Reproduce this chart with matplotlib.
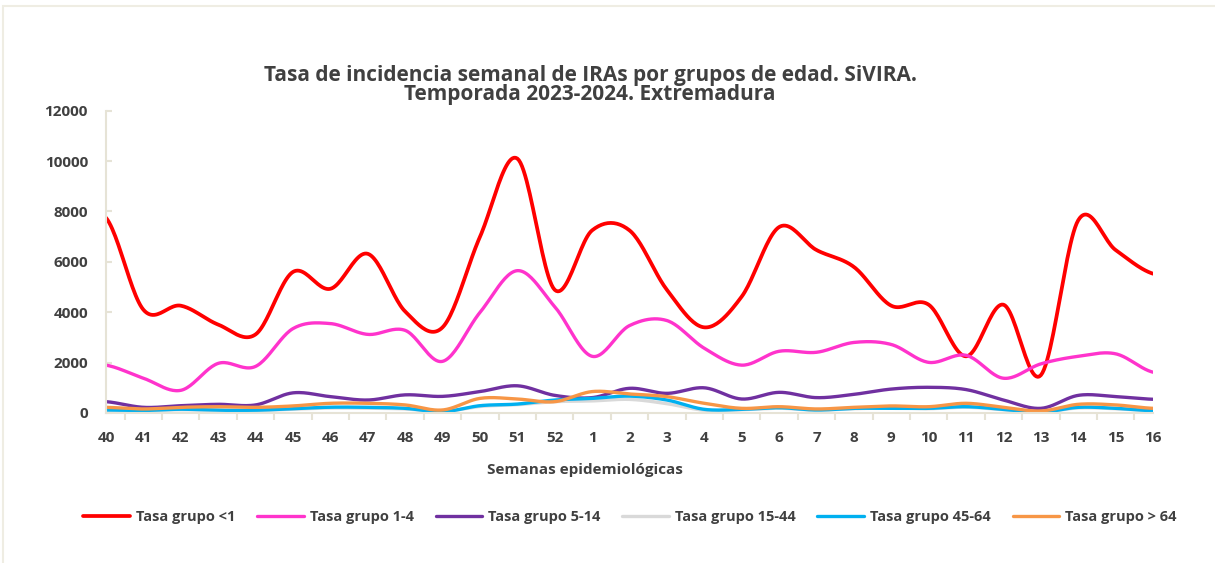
import numpy as np
import matplotlib
matplotlib.use("Agg")
import matplotlib.pyplot as plt
from matplotlib.patches import Rectangle

weeks = ['40', '41', '42', '43', '44', '45', '46', '47', '48', '49', '50', '51', '52',
         '1', '2', '3', '4', '5', '6', '7', '8', '9', '10', '11', '12', '13', '14', '15', '16']

tasa_lt1 = [7750, 4100, 4260, 3510, 3120, 5600, 4930, 6320, 4030, 3400, 6990, 10100, 4890,
            7250, 7250, 4890, 3400, 4620, 7380, 6470, 5800, 4260, 4300, 2250, 4300, 1500,
            7650, 6470, 5530]
tasa_1_4 = [1900, 1380, 900, 1970, 1850, 3350, 3550, 3120, 3280, 2050, 3990, 5650, 4220,
            2250, 3470, 3670, 2570, 1900, 2450, 2410, 2800, 2720, 2010, 2290, 1380, 1950,
            2250, 2350, 1620]
tasa_5_14 = [450, 225, 290, 345, 320, 800, 650, 515, 720, 660, 850, 1080, 700,
             610, 980, 780, 1000, 555, 820, 610, 740, 950, 1020, 930, 515, 185,
             700, 650, 545]
tasa_15_44 = [100, 90, 130, 100, 100, 150, 200, 190, 160, 60, 260, 330, 450,
              480, 540, 370, 110, 130, 190, 110, 170, 200, 170, 230, 130, 30,
              200, 170, 80]
tasa_45_64 = [120, 100, 150, 110, 110, 170, 230, 225, 185, 50, 290, 355, 515,
              580, 670, 515, 145, 145, 210, 120, 185, 185, 185, 250, 145, 30,
              225, 185, 90]
tasa_gt64 = [225, 160, 225, 250, 225, 280, 385, 385, 320, 120, 580, 555, 450,
             850, 755, 650, 385, 185, 250, 160, 225, 280, 250, 385, 225, 80,
             345, 320, 185]

series = [
    ("Tasa grupo <1", tasa_lt1, "#FF0000", 2.7),
    ("Tasa grupo 1-4", tasa_1_4, "#FF33CC", 2.4),
    ("Tasa grupo 5-14", tasa_5_14, "#7030A0", 2.4),
    ("Tasa grupo 15-44", tasa_15_44, "#D9D9D9", 2.4),
    ("Tasa grupo 45-64", tasa_45_64, "#00B0F0", 2.4),
    ("Tasa grupo > 64", tasa_gt64, "#F79646", 2.4),
]


def smooth(y, n=24):
    y = np.asarray(y, float)
    p = np.concatenate([[y[0]], y, [y[-1]]])
    xs, ys = [], []
    t = np.linspace(0, 1, n, endpoint=False)
    for i in range(len(y) - 1):
        p0, p1, p2, p3 = p[i], p[i + 1], p[i + 2], p[i + 3]
        c1 = p1 + (p2 - p0) / 6.0
        c2 = p2 - (p3 - p1) / 6.0
        b = ((1 - t) ** 3) * p1 + 3 * ((1 - t) ** 2) * t * c1 + 3 * (1 - t) * t ** 2 * c2 + t ** 3 * p2
        xs.append(i + t)
        ys.append(b)
    xs.append([len(y) - 1])
    ys.append([y[-1]])
    return np.concatenate(xs), np.concatenate(ys)


plt.rcParams['font.family'] = ['Open Sans', 'DejaVu Sans']
txt_color = '#404040'
axis_color = '#E6E3D6'

fig = plt.figure(figsize=(12.15, 5.63), dpi=100)
ax = fig.add_axes([106 / 1215, 1 - 413 / 563, (1153 - 106) / 1215, (413 - 110.7) / 563])

for name, vals, col, lw in series:
    xs, ys = smooth(vals)
    ax.plot(xs, ys, color=col, lw=lw, label=name, solid_capstyle='round', solid_joinstyle='round')

ax.set_xlim(0, len(weeks) - 1)
ax.set_ylim(0, 12000)
ax.set_yticks(np.arange(0, 12001, 2000))
ax.set_xticks(np.arange(len(weeks)))
ax.set_xticklabels(weeks)
ax.set_xticks(np.arange(0.5, len(weeks) - 1, 1), minor=True)

for s in ['top', 'right']:
    ax.spines[s].set_visible(False)
for s in ['left', 'bottom']:
    ax.spines[s].set_color(axis_color)
    ax.spines[s].set_linewidth(1.5)

ax.tick_params(axis='x', which='major', length=0, pad=13, labelsize=11, colors=txt_color)
ax.tick_params(axis='x', which='minor', length=5, width=1.5, color=axis_color, direction='out')
ax.tick_params(axis='y', which='major', length=4, width=1.5, color=axis_color, direction='in',
               pad=13, labelsize=11, labelcolor=txt_color)
for lab in ax.get_xticklabels() + ax.get_yticklabels():
    lab.set_fontweight('bold')

ax.set_xlabel('Semanas epidemiológicas', fontsize=11, fontweight='bold', color=txt_color)
ax.xaxis.set_label_coords((585 - 106) / 1047, -50 / 302.3)
ax.set_title('Tasa de incidencia semanal de IRAs por grupos de edad. SiVIRA.\nTemporada 2023-2024. Extremadura',
             fontsize=15, fontweight='bold', color=txt_color, x=(590 - 106) / 1047, pad=8, linespacing=0.86)

leg = fig.legend(loc='center', bbox_to_anchor=(630 / 1215, 1 - 517 / 563), ncol=6, frameon=False,
                 handlelength=3.2, columnspacing=1.5, handletextpad=0.4,
                 prop={'weight': 'bold', 'size': 10.5})
for t in leg.get_texts():
    t.set_color(txt_color)

fig.patches.append(Rectangle((3 / 1215, -0.1), 1.2, 1 - 6 / 563 + 0.1, transform=fig.transFigure,
                             fill=False, edgecolor='#EFEDE3', linewidth=1.5))

fig.savefig('out.png', dpi=100)
